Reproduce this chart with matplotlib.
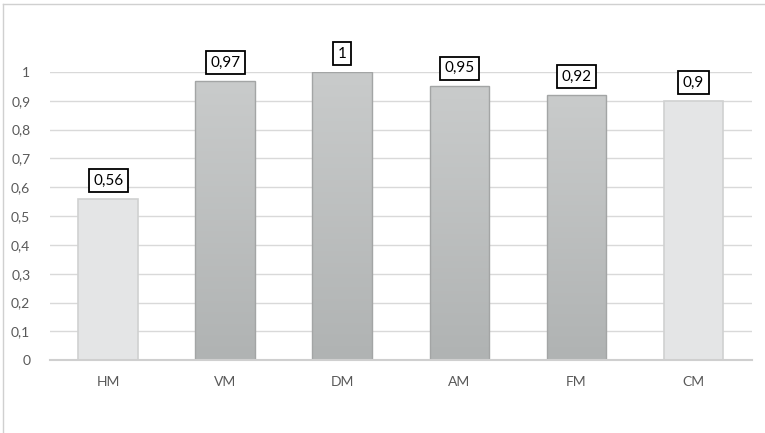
import matplotlib
matplotlib.use('Agg')
import matplotlib.pyplot as plt
import numpy as np
from matplotlib.colors import LinearSegmentedColormap

plt.rcParams['font.family'] = ['Lato', 'DejaVu Sans']

categories = ['HM', 'VM', 'DM', 'AM', 'FM', 'CM']
values = [0.56, 0.97, 1.0, 0.95, 0.92, 0.9]
labels = ['0,56', '0,97', '1', '0,95', '0,92', '0,9']
light = [True, False, False, False, False, True]
yticks = np.arange(0, 1.01, 0.1)
ytick_labels = ['0', '0,1', '0,2', '0,3', '0,4', '0,5', '0,6', '0,7', '0,8', '0,9', '1']

fig = plt.figure(figsize=(7.65, 4.33), dpi=100)
ax = fig.add_axes([0.065, 0.168, 0.918, 0.666])

x = np.arange(len(categories))
width = 0.51
grad = LinearSegmentedColormap.from_list('g', ['#b0b3b3', '#c9cbcb'])

for xi, v, lt in zip(x, values, light):
    if lt:
        ax.bar(xi, v, width, color='#e4e5e6', edgecolor='#d0d1d1', linewidth=1.2, zorder=3)
    else:
        bar = ax.bar(xi, v, width, color='none', edgecolor='#a3a5a5', linewidth=1.0, zorder=4)[0]
        img = ax.imshow(np.linspace(0, 1, 100).reshape(-1, 1), cmap=grad, aspect='auto',
                        extent=[xi - width / 2, xi + width / 2, 0, v], origin='lower', zorder=3)
        img.set_clip_path(bar)

for xi, v, lab in zip(x, values, labels):
    ax.annotate(lab, (xi, v), xytext=(0, 8), textcoords='offset points', ha='center', va='bottom',
                fontsize=11, color='black',
                bbox=dict(boxstyle='square,pad=0.3', fc='white', ec='black', lw=1.3), zorder=5)

ax.set_xlim(-0.5, len(categories) - 0.5)
ax.set_ylim(0, 1)
ax.set_yticks(yticks)
ax.set_yticklabels(ytick_labels)
ax.set_xticks(x)
ax.set_xticklabels(categories)
ax.tick_params(axis='both', length=0, labelsize=10, colors='#595959')
ax.tick_params(axis='y', pad=14)
ax.tick_params(axis='x', pad=11)
ax.grid(axis='y', color='#d9d9d9', linewidth=1.0, zorder=0)
for s in ['top', 'right', 'left']:
    ax.spines[s].set_visible(False)
ax.spines['bottom'].set_color('#cfcfcf')
ax.spines['bottom'].set_linewidth(1.5)
ax.spines['bottom'].set_zorder(6)

# outer chart frame (only top/left visible)
fig.add_artist(plt.Line2D([0.004, 0.004], [0, 0.991], color='#d0d0d0', lw=1.0))
fig.add_artist(plt.Line2D([0.004, 1], [0.991, 0.991], color='#d0d0d0', lw=1.0))

fig.savefig('out.png', dpi=100)
